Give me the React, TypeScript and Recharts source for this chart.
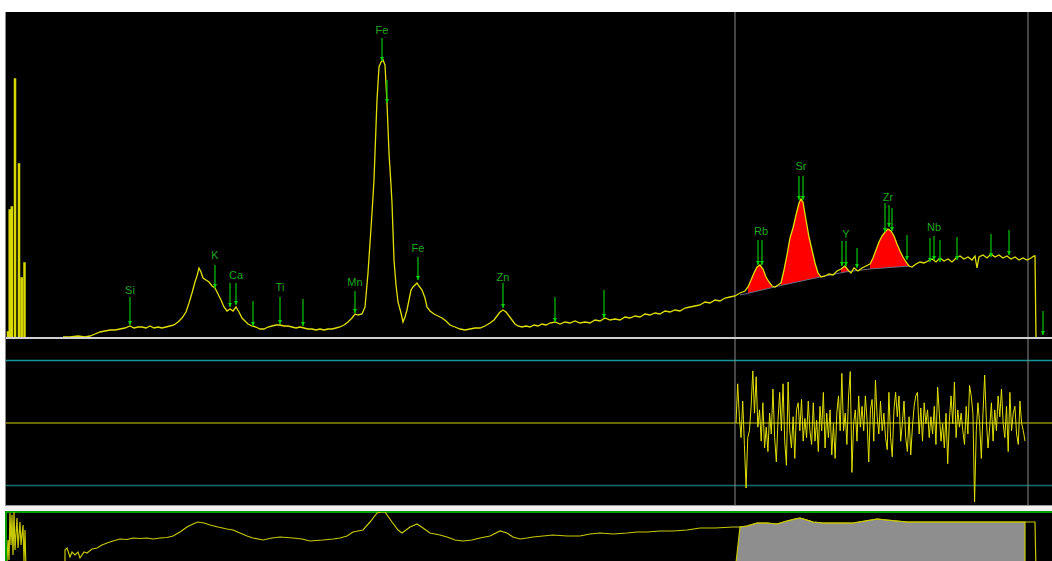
import React from "react";
import { ComposedChart, Line, Area, Scatter, XAxis, YAxis, ReferenceLine } from "recharts";

// channel axis (about 18.5 eV per channel)
const CH_MAX = 1047;
const COUNT_MAX = 3260;

// low-energy noise spikes: channel, counts
const SPIKE_CH = [3, 4.7, 6.8, 10, 14, 16.7, 19.5];
const SPIKE_COUNTS = [60, 1280, 1310, 2590, 1740, 600, 750];

// measured spectrum [channel, counts]
const SPECTRUM: [number, number][] = [
  [58, 10], [65, 10], [73, 20], [80, 10], [85, 20], [90, 40], [95, 60], [100, 70], [105, 80], [110, 80],
  [115, 90], [120, 100], [125, 120], [129, 100], [133, 110], [137, 110], [141, 100], [145, 120], [149, 100], [153, 110],
  [157, 100], [161, 110], [165, 120], [169, 130], [173, 160], [177, 200], [181, 260], [184, 350], [187, 450], [190, 560],
  [192, 620], [194, 700], [196, 660], [198, 600], [201, 580], [204, 560], [207, 520], [210, 500], [213, 440], [216, 380],
  [219, 310], [222, 270], [225, 290], [228, 270], [231, 310], [234, 260], [237, 200], [240, 170], [243, 140], [247, 120],
  [251, 110], [255, 90], [259, 90], [263, 110], [267, 120], [271, 130], [275, 130], [279, 120], [283, 120], [287, 110],
  [291, 100], [295, 110], [299, 100], [303, 90], [307, 90], [311, 80], [315, 90], [319, 80], [323, 90], [327, 90],
  [331, 100], [335, 110], [339, 130], [343, 160], [347, 200], [350, 240], [353, 230], [357, 240], [360, 310], [363, 650],
  [365, 950], [367, 1250], [369, 1580], [370, 1850], [372, 2380], [374, 2710], [376, 2760], [378, 2780], [380, 2730], [382, 2350],
  [384, 1850], [386, 1530], [387, 1350], [389, 780], [391, 530], [393, 360], [396, 250], [398, 160], [400, 210], [402, 280],
  [404, 380], [406, 480], [408, 510], [410, 530], [412, 550], [414, 520], [417, 480], [420, 400], [422, 310], [425, 270],
  [429, 240], [433, 220], [437, 200], [441, 170], [445, 130], [450, 110], [455, 90], [460, 80], [465, 90], [470, 100],
  [475, 100], [480, 120], [485, 150], [489, 180], [492, 220], [495, 260], [498, 280], [501, 260], [504, 220], [507, 180],
  [510, 140], [513, 120], [517, 110], [521, 120], [525, 110], [529, 130], [533, 120], [537, 140], [541, 130], [545, 150],
  [550, 160], [555, 140], [560, 160], [565, 150], [570, 170], [575, 150], [580, 160], [585, 150], [590, 180], [595, 170],
  [600, 200], [605, 180], [610, 190], [615, 180], [620, 210], [625, 200], [630, 220], [635, 210], [640, 240], [645, 230],
  [650, 250], [655, 240], [660, 270], [665, 260], [670, 280], [675, 270], [680, 300], [685, 310], [690, 320], [695, 330],
  [700, 360], [705, 350], [710, 380], [715, 370], [720, 400], [725, 410], [730, 420], [735, 450], [740, 470], [743, 510],
  [746, 580], [749, 650], [752, 710], [755, 730], [758, 690], [761, 610], [764, 560], [767, 520], [770, 510], [773, 530],
  [776, 550], [779, 680], [782, 830], [785, 1000], [788, 1100], [791, 1230], [794, 1350], [796, 1390], [798, 1360], [801, 1180],
  [804, 1010], [807, 880], [810, 750], [813, 650], [816, 610], [820, 620], [824, 640], [828, 630], [832, 670], [836, 690],
  [840, 720], [843, 680], [846, 650], [849, 700], [853, 670], [857, 700], [861, 720], [865, 740], [868, 800], [871, 880],
  [874, 960], [877, 1020], [880, 1060], [883, 1090], [886, 1070], [889, 1020], [892, 940], [895, 870], [898, 810], [901, 760],
  [904, 720], [907, 710], [911, 740], [915, 760], [919, 750], [923, 770], [927, 790], [931, 760], [935, 800], [939, 770],
  [943, 790], [947, 760], [951, 800], [955, 820], [959, 790], [963, 810], [967, 780], [970, 820], [972, 700], [974, 810],
  [978, 830], [982, 800], [986, 840], [990, 810], [994, 830], [998, 800], [1002, 820], [1006, 790], [1010, 810], [1014, 780],
  [1018, 800], [1022, 780], [1026, 800], [1029, 820], [1030, 820], [1031, 0],
];

// fitted background under the ROI peaks
const BG_CH = [735, 742, 778, 815, 840, 865, 905];
const BG_COUNTS = [430, 445, 530, 610, 660, 690, 720];

// ROI windows (channels) filled in red
const ROI_WINDOWS: [number, number][] = [[742, 768], [776, 816], [835, 846], [865, 904]];

// line markers: channel, arrow tip, arrow top (counts)
const MARKER_CH = [125, 210, 225, 231, 248, 275, 298, 350, 377, 382, 413, 498, 550, 599, 753, 757, 794, 798,
  837, 841, 852, 880, 884, 887, 902, 925, 929, 935, 952, 986, 1004, 1038];
const MARKER_TIP = [130, 500, 310, 330, 120, 140, 120, 250, 2770, 2350, 580, 300, 160, 200, 730, 730, 1380, 1380,
  720, 720, 700, 1060, 1110, 1070, 780, 760, 780, 760, 780, 810, 830, 30];
const MARKER_TOP = [410, 730, 550, 550, 370, 410, 390, 470, 3000, 2580, 810, 550, 410, 480, 980, 980, 1620, 1620,
  970, 970, 900, 1350, 1330, 1300, 1030, 1000, 1020, 980, 1010, 1040, 1080, 270];

const LABELS = ["Si", "K", "Ca", "Ti", "Mn", "Fe", "Fe", "Zn", "Rb", "Sr", "Y", "Zr", "Nb"];
const LABEL_CH = [125, 210, 231, 275, 350, 377, 413, 498, 756, 796, 841, 883, 929];
const LABEL_COUNTS = [440, 790, 590, 470, 520, 3040, 860, 570, 1030, 1680, 1000, 1370, 1070];

// residuals (sigma) over the fit region
const RESID_START_CH = 731;
const RESID_END_CH = 1020;
const RESIDUALS = [
  0, 1.88, 0.3, -0.7, 1.05, -1.03, -3.12, -0.7, -0.37, 0.8, 2.5, 0.47, 2.22, -0.2, 0.63, -0.87, 0.97, -1.2, -0.2, -1.37,
  0.47, -0.53, 1.63, -0.7, -1.87, 0.13, 1.47, -0.37, 1.88, -0.87, -2.03, 1.97, -0.37, -1.2, 0.3, -1.7, 0.63, 0.97, -0.37, 1.13,
  -0.87, 0.22, -0.7, 1.05, -0.37, -1.03, 0.97, -0.87, 0.13, -1.37, 0.8, -0.37, 1.47, -1.2, 0.47, -0.7, 0.63, -1.53, -0.03, -1.7,
  0.47, 1.3, -0.37, 2.38, -0.37, 0.47, -1.03, 1.3, 2.47, -2.37, -0.03, 0.63, -0.87, 1.3, -0.2, 0.8, -0.37, 1.3, 0.13, -1.87,
  0.63, 1.13, -0.87, 2.05, 0.3, -0.53, 1.05, -0.37, 0.47, -0.7, -1.28, 1.47, -0.7, -1.62, 0.63, 1.47, 0.3, 1.3, -0.87, -0.03,
  1.05, -0.7, -1.37, 0.3, -1.53, -0.2, 0.8, 1.3, 1.47, -0.53, 0.72, -0.87, 0.97, -0.03, 0.63, -0.7, 0.3, -0.53, 0.8, -1.03,
  1.72, 0.47, -0.87, -0.03, -1.2, 0.47, -1.95, 0.13, 1.3, -0.03, 1.97, -0.7, 0.63, -0.2, 0.47, -0.37, -1.03, 0.8, -0.53, 1.8,
  1.3, 0.47, -3.78, -0.37, 0.97, -0.03, -1.7, 0.47, 2.3, 0.13, -1.2, -0.2, 0.97, -0.87, 0.63, -0.37, 1.3, 0.3, 1.63, -0.03,
  -0.7, 0.8, -1.37, 1.47, -0.37, 0.47, 0.8, -0.53, -1.03, 1.05, -0.03, -0.37, -0.87,
];

// overview (log counts) [channel, log]
const OVERVIEW: [number, number][] = [
  [2, 1.1], [3, 3.2], [4, 1.2], [5, 5.9], [6, 2.7], [7, 5.7], [8, 1.7], [9, 6.0], [10, 2.2], [12, 5.4],
  [13, 2.4], [15, 5.0], [16, 2.7], [18, 4.7], [19, 1.1], [20, 4.2], [21, 0], [60, 0], [60, 2.2], [62, 2.4],
  [65, 1.5], [67, 2.0], [70, 1.7], [73, 2.0], [75, 1.4], [79, 2.0], [82, 1.9], [87, 2.3], [92, 2.4], [97, 2.7],
  [102, 2.9], [108, 3.1], [115, 3.3], [122, 3.25], [128, 3.4], [135, 3.35], [142, 3.4], [148, 3.3], [155, 3.4], [162, 3.45],
  [168, 3.6], [175, 4.0], [182, 4.5], [188, 4.8], [193, 5.0], [199, 4.9], [205, 4.7], [213, 4.5], [222, 4.3], [228, 4.2],
  [235, 3.9], [242, 3.6], [248, 3.4], [258, 3.2], [267, 3.4], [275, 3.5], [288, 3.4], [297, 3.3], [305, 3.1], [318, 3.2],
  [328, 3.3], [335, 3.4], [342, 3.6], [348, 4.0], [358, 4.2], [365, 5.0], [372, 5.9], [376, 6.0], [380, 6.0], [387, 5.0],
  [393, 4.2], [397, 3.9], [405, 4.5], [412, 4.8], [418, 4.4], [425, 3.9], [435, 3.7], [442, 3.5], [450, 3.2], [458, 3.1],
  [467, 3.2], [475, 3.4], [485, 3.6], [495, 4.1], [502, 3.9], [508, 3.5], [515, 3.3], [522, 3.4], [528, 3.5], [538, 3.6],
  [548, 3.7], [562, 3.6], [575, 3.6], [585, 3.8], [595, 3.9], [608, 3.8], [622, 3.9], [632, 4.0], [642, 4.0], [655, 4.1],
  [668, 4.1], [682, 4.2], [695, 4.4], [710, 4.4], [728, 4.5], [735, 4.5], [742, 4.6], [752, 4.9], [762, 4.9], [772, 4.8],
  [782, 5.1], [790, 5.3], [795, 5.4], [802, 5.2], [808, 5.0], [818, 4.9], [828, 4.9], [838, 4.9], [848, 4.9], [860, 5.1],
  [872, 5.3], [882, 5.2], [892, 5.1], [902, 5.0], [915, 5.0], [928, 5.0], [945, 5.0], [962, 5.0], [975, 5.0], [988, 5.0],
  [1005, 5.0], [1020, 5.0], [1030, 5.0], [1031, 0],
];
const OVERVIEW_ROI: [number, number] = [730, 1020];

const YELLOW = "#e0e000";
const GREEN = "#00b400";
const GRID_GREY = "#8a8a8a";

const specData = SPECTRUM.map(([ch, c]) => ({ ch, c }));
const spikeData = SPIKE_CH.flatMap((ch, i) => [
  { ch: ch - 0.6, c: 0 },
  { ch: ch - 0.6, c: SPIKE_COUNTS[i] },
  { ch: ch + 0.6, c: SPIKE_COUNTS[i] },
  { ch: ch + 0.6, c: 0 },
]);
const bgData = BG_CH.map((ch, i) => ({ ch, c: BG_COUNTS[i] }));
const roiData = ROI_WINDOWS.map(([a, b]) => specData.filter((p) => p.ch >= a && p.ch <= b));
const shaftData = MARKER_CH.flatMap((ch, i) => [
  { ch, c: MARKER_TOP[i] },
  { ch, c: MARKER_TIP[i] },
  { ch, c: null },
]);
const tipData = MARKER_CH.map((ch, i) => ({ ch, c: MARKER_TIP[i] }));
const labelData = LABELS.map((label, i) => ({ ch: LABEL_CH[i], c: LABEL_COUNTS[i], label }));

const residStep = (RESID_END_CH - RESID_START_CH) / (RESIDUALS.length - 1);
const residData = RESIDUALS.map((r, i) => ({ ch: RESID_START_CH + i * residStep, r }));

const overData = OVERVIEW.map(([ch, v]) => ({ ch, v }));
const overRoi = [
  { ch: OVERVIEW_ROI[0], v: 0 },
  ...overData.filter((p) => p.ch >= OVERVIEW_ROI[0] && p.ch <= OVERVIEW_ROI[1]),
  { ch: OVERVIEW_ROI[1], v: 0 },
];

function ArrowHead(props: any) {
  const { cx, cy } = props;
  if (cx == null || cy == null) return null;
  return <path d={`M${cx - 2},${cy - 4}L${cx + 2},${cy - 4}L${cx},${cy}Z`} fill="#00d000" />;
}

function ElementLabel(props: any) {
  const { cx, cy, payload } = props;
  if (cx == null || cy == null) return null;
  return (
    <text
      x={cx}
      y={cy}
      textAnchor="middle"
      fontSize={11}
      fontFamily="'Liberation Sans', Arial, sans-serif"
      fill="#1fa51f"
    >
      {payload.label}
    </text>
  );
}

const noMargin = { top: 0, right: 0, bottom: 0, left: 0 };

export default function App() {
  return (
    <div style={{ position: "absolute", left: 0, top: 0, width: 1052, height: 561, overflow: "hidden", background: "#fff" }}>
      <div style={{ position: "absolute", left: 5, top: 12, width: 1047, height: 549, background: "#000" }} />

      {/* spectrum */}
      <div style={{ position: "absolute", left: 5, top: 12 }}>
        <ComposedChart width={1047} height={326} margin={noMargin}>
          <XAxis type="number" dataKey="ch" domain={[0, CH_MAX]} hide allowDataOverflow />
          <YAxis type="number" domain={[0, COUNT_MAX]} hide allowDataOverflow />
          <ReferenceLine x={730} stroke={GRID_GREY} />
          <ReferenceLine x={1023} stroke={GRID_GREY} />
          {roiData.map((d, i) => (
            <Area key={i} data={d} dataKey="c" type="linear" fill="#ff0000" fillOpacity={1} stroke="none" isAnimationActive={false} />
          ))}
          <Area data={bgData} dataKey="c" type="linear" fill="#000" fillOpacity={1} stroke="none" isAnimationActive={false} />
          <Line data={bgData} dataKey="c" type="linear" stroke="#6c6c80" strokeWidth={1} dot={false} isAnimationActive={false} />
          <Line data={spikeData} dataKey="c" type="linear" stroke="#d8d800" strokeWidth={1.3} dot={false} isAnimationActive={false} />
          <Line data={specData} dataKey="c" type="linear" stroke={YELLOW} strokeWidth={1.3} dot={false} isAnimationActive={false} />
          <Line data={shaftData} dataKey="c" type="linear" stroke={GREEN} strokeWidth={1.3} dot={false} connectNulls={false} isAnimationActive={false} />
          <Scatter data={tipData} dataKey="c" shape={ArrowHead} isAnimationActive={false} />
          <Scatter data={labelData} dataKey="c" shape={ElementLabel} isAnimationActive={false} />
        </ComposedChart>
      </div>
      <div style={{ position: "absolute", left: 5, top: 337, width: 1047, height: 2, background: "#cfcfcf" }} />

      {/* residuals */}
      <div style={{ position: "absolute", left: 5, top: 339 }}>
        <ComposedChart width={1047} height={168} margin={noMargin}>
          <XAxis type="number" dataKey="ch" domain={[0, CH_MAX]} hide allowDataOverflow />
          <YAxis type="number" domain={[-4.03, 4.03]} hide allowDataOverflow />
          <ReferenceLine y={3} stroke="#179797" strokeWidth={1.5} />
          <ReferenceLine y={-3} stroke="#117070" strokeWidth={1.5} />
          <ReferenceLine y={0} stroke="#8c8c00" strokeWidth={1.5} />
          <ReferenceLine x={730} stroke={GRID_GREY} />
          <ReferenceLine x={1023} stroke={GRID_GREY} />
          <Line data={residData} dataKey="r" type="linear" stroke={YELLOW} strokeWidth={1} dot={false} isAnimationActive={false} />
        </ComposedChart>
      </div>
      <div style={{ position: "absolute", left: 5, top: 12, width: 1, height: 493, background: "#8a8a8a" }} />
      <div style={{ position: "absolute", left: 5, top: 505, width: 1047, height: 1, background: "#9a9a9a" }} />
      <div style={{ position: "absolute", left: 5, top: 506, width: 1047, height: 5, background: "#f2f2f2" }} />
      <div style={{ position: "absolute", left: 5, top: 511, width: 1047, height: 2, background: "#00a000" }} />

      {/* overview */}
      <div style={{ position: "absolute", left: 5, top: 512 }}>
        <ComposedChart width={1047} height={60} margin={noMargin}>
          <XAxis type="number" dataKey="ch" domain={[0, CH_MAX]} hide allowDataOverflow />
          <YAxis type="number" domain={[0, 6]} hide allowDataOverflow />
          <Area data={overRoi} dataKey="v" type="linear" fill="#8e8e8e" fillOpacity={1} stroke="#c8c800" strokeWidth={1.2} isAnimationActive={false} />
          <Line data={overData} dataKey="v" type="linear" stroke="#c8c800" strokeWidth={1.2} dot={false} isAnimationActive={false} />
        </ComposedChart>
      </div>
      <div style={{ position: "absolute", left: 5, top: 511, width: 2, height: 50, background: "#00a000" }} />
    </div>
  );
}
